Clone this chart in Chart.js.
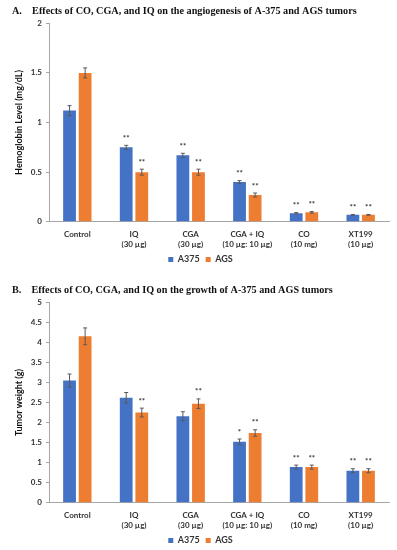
<!DOCTYPE html>
<html lang="en">
<head>
    <meta charset="UTF-8">
    <title>Effects of CO, CGA, and IQ on A-375 and AGS tumors</title>
    <style>
        body { margin: 0; background: #fff; overflow: hidden; }
        .panel { position: absolute; left: 0; width: 397px; }
        #panelA { top: 0; height: 274px; }
        #panelB { top: 279px; height: 276px; }
    </style>
</head>
<body>
    <div class="panel" id="panelA"><canvas id="chartA"></canvas></div>
    <div class="panel" id="panelB"><canvas id="chartB"></canvas></div>
    <script src="https://cdn.jsdelivr.net/npm/chart.js"></script>
    <script>
        const categories = [
            'Control',
            ['IQ', '(30 µg)'],
            ['CGA', '(30 µg)'],
            ['CGA + IQ', '(10 µg: 10 µg)'],
            ['CO', '(10 mg)'],
            ['XT199', '(10 µg)']
        ];
        const seriesNames = ['A375', 'AGS'];

        // A: hemoglobin level (mg/dL)
        const hbA375 = [1.12, 0.75, 0.67, 0.40, 0.085, 0.07];
        const hbAGS = [1.50, 0.50, 0.50, 0.27, 0.095, 0.07];
        const hbErrA375 = [0.05, 0.02, 0.02, 0.015, 0.008, 0.004];
        const hbErrAGS = [0.05, 0.03, 0.03, 0.02, 0.008, 0.004];
        const hbStarsA375 = ['', '**', '**', '**', '**', '**'];
        const hbStarsAGS = ['', '**', '**', '**', '**', '**'];

        // B: tumor weight (g)
        const twA375 = [3.05, 2.62, 2.16, 1.52, 0.89, 0.80];
        const twAGS = [4.15, 2.25, 2.47, 1.74, 0.89, 0.80];
        const twErrA375 = [0.16, 0.13, 0.11, 0.07, 0.05, 0.05];
        const twErrAGS = [0.21, 0.11, 0.12, 0.08, 0.05, 0.05];
        const twStarsA375 = ['', '', '', '*', '**', '**'];
        const twStarsAGS = ['', '**', '**', '**', '**', '**'];

        const blue = '#4472C4';
        const orange = '#ED7D31';
        const axisGray = '#a6a6a6';
        const tickFont = { family: 'Lato', size: 8, weight: 'bold' };

        // error bars + significance stars
        const errorBarPlugin = {
            id: 'errorBars',
            afterDatasetsDraw(chart) {
                const ctx = chart.ctx;
                const yScale = chart.scales.y;
                chart.data.datasets.forEach((ds, di) => {
                    const meta = chart.getDatasetMeta(di);
                    meta.data.forEach((bar, i) => {
                        const v = ds.data[i];
                        const e = ds.errors[i];
                        const yTop = yScale.getPixelForValue(v + e);
                        const yBot = yScale.getPixelForValue(v - e);
                        ctx.save();
                        ctx.strokeStyle = '#595959';
                        ctx.lineWidth = 1;
                        ctx.beginPath();
                        ctx.moveTo(bar.x, yTop); ctx.lineTo(bar.x, yBot);
                        ctx.moveTo(bar.x - 2, yTop); ctx.lineTo(bar.x + 2, yTop);
                        ctx.moveTo(bar.x - 2, yBot); ctx.lineTo(bar.x + 2, yBot);
                        ctx.stroke();
                        if (ds.stars[i]) {
                            ctx.fillStyle = '#333';
                            ctx.font = 'bold 8px Lato';
                            ctx.textAlign = 'center';
                            ctx.textBaseline = 'bottom';
                            ctx.fillText(ds.stars[i], bar.x, yTop - 3);
                        }
                        ctx.restore();
                    });
                });
            }
        };

        function makeChart(id, title, yTitle, yMax, a375, ags, errA, errB, starsA, starsB) {
            return new Chart(document.getElementById(id), {
                type: 'bar',
                data: {
                    labels: categories,
                    datasets: [
                        { label: seriesNames[0], data: a375, errors: errA, stars: starsA, backgroundColor: blue,
                          categoryPercentage: 0.55, barPercentage: 0.82 },
                        { label: seriesNames[1], data: ags, errors: errB, stars: starsB, backgroundColor: orange,
                          categoryPercentage: 0.55, barPercentage: 0.82 }
                    ]
                },
                plugins: [errorBarPlugin],
                options: {
                    responsive: true,
                    maintainAspectRatio: false,
                    animation: false,
                    layout: { padding: { left: 12, right: 8, top: 0, bottom: 0 } },
                    plugins: {
                        title: {
                            display: true,
                            text: title,
                            align: 'start',
                            color: '#111',
                            font: { family: 'Liberation Serif', size: 10.2, weight: 'bold' },
                            padding: { top: 5, bottom: 6 }
                        },
                        legend: {
                            position: 'bottom',
                            labels: {
                                boxWidth: 5, boxHeight: 5, padding: 6, color: '#333',
                                font: { family: 'Lato', size: 9, weight: 'bold' }
                            }
                        },
                        tooltip: { enabled: false }
                    },
                    scales: {
                        x: {
                            grid: { display: false },
                            border: { color: axisGray },
                            ticks: { color: '#333', font: tickFont, maxRotation: 0, autoSkip: false, padding: 0 }
                        },
                        y: {
                            min: 0, max: yMax,
                            ticks: { stepSize: 0.5, color: '#333', font: tickFont, padding: 4,
                                     callback: (v) => String(v) },
                            grid: { drawOnChartArea: false, drawTicks: true, tickLength: 3, color: axisGray },
                            border: { color: axisGray },
                            title: {
                                display: true, text: yTitle, color: '#111',
                                font: { family: 'Lato', size: 9, weight: 'bold' }, padding: 2
                            },
                            afterFit(scale) { scale.width = 37; }
                        }
                    }
                }
            });
        }

        makeChart('chartA', 'A.    Effects of CO, CGA, and IQ on the angiogenesis of A-375 and AGS tumors',
            'Hemoglobin Level (mg/dL)', 2, hbA375, hbAGS, hbErrA375, hbErrAGS, hbStarsA375, hbStarsAGS);
        makeChart('chartB', 'B.    Effects of CO, CGA, and IQ on the growth of A-375 and AGS tumors',
            'Tumor weight (g)', 5, twA375, twAGS, twErrA375, twErrAGS, twStarsA375, twStarsAGS);
    </script>
</body>
</html>
